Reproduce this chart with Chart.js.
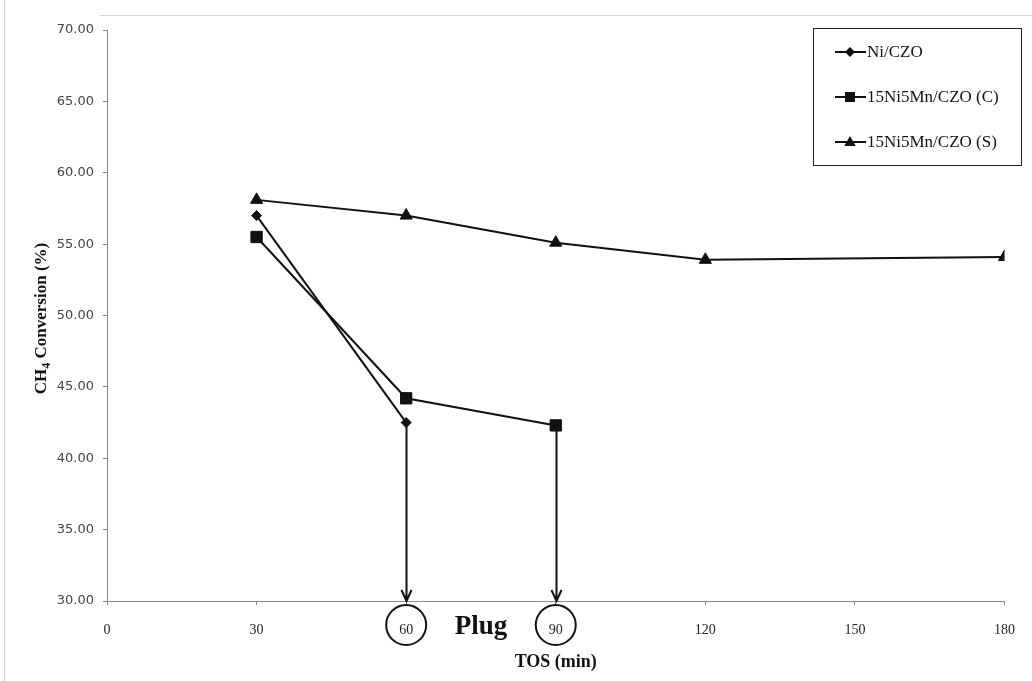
<!DOCTYPE html>
<html>
<head>
<meta charset="utf-8">
<script src="https://cdn.jsdelivr.net/npm/chart.js@4/dist/chart.umd.min.js"></script>
<style>
  html, body { margin: 0; padding: 0; background: #fff; }
  #wrap { width: 1032px; height: 681px; position: relative; }
</style>
</head>
<body>
<div id="wrap"><canvas id="c" width="1032" height="681"></canvas></div>
<script>
// Time on stream (min) and CH4 conversion (%) for each catalyst
const tosNi   = [30, 60];
const convNi  = [57.0, 42.5];
const tosC    = [30, 60, 90];
const convC   = [55.5, 44.2, 42.3];
const tosS    = [30, 60, 90, 120, 180];
const convS   = [58.1, 57.0, 55.1, 53.9, 54.1];
const seriesNames = ['Ni/CZO', '15Ni5Mn/CZO (C)', '15Ni5Mn/CZO (S)'];
const seriesMarkers = ['rectRot', 'rect', 'triangle'];
const xTickValues = [0, 30, 60, 90, 120, 150, 180];
const yTickValues = [30, 35, 40, 45, 50, 55, 60, 65, 70];
const plugTimes = [60, 90];   // runs stopped by reactor plugging
const plugLabel = 'Plug';
const xTitle = 'TOS (min)';

const INK = '#111';
const SERIF = '"Liberation Serif", "DejaVu Serif", serif';
const SANS = '"DejaVu Sans", "Liberation Sans", sans-serif';

const pts = (xs, ys) => xs.map((x, i) => ({ x: x, y: ys[i] }));

function drawMarker(ctx, style, x, y, r) {
  ctx.beginPath();
  if (style === 'rectRot') {
    ctx.moveTo(x, y - r); ctx.lineTo(x + r, y); ctx.lineTo(x, y + r); ctx.lineTo(x - r, y);
  } else if (style === 'rect') {
    ctx.rect(x - r, y - r, 2 * r, 2 * r);
  } else {
    ctx.moveTo(x, y - r); ctx.lineTo(x + r * 0.95, y + r * 0.65); ctx.lineTo(x - r * 0.95, y + r * 0.65);
  }
  ctx.closePath();
  ctx.fill();
}

// Plug arrows, circled tick labels, axis title with subscript, legend
const annotations = {
  id: 'annotations',
  afterDraw(chart) {
    const ctx = chart.ctx;
    const xs = chart.scales.x, ys = chart.scales.y;
    const axisY = ys.getPixelForValue(30);
    ctx.save();

    // faint outer frame lines
    ctx.strokeStyle = '#d4d4d4';
    ctx.lineWidth = 1;
    ctx.beginPath();
    ctx.moveTo(100, 15.5); ctx.lineTo(1032, 15.5);
    ctx.moveTo(4.5, 0); ctx.lineTo(4.5, 681);
    ctx.stroke();

    // arrows from the last point of each plugged run down to the axis
    const ends = [
      { x: tosNi[tosNi.length - 1], y: convNi[convNi.length - 1] },
      { x: tosC[tosC.length - 1], y: convC[convC.length - 1] }
    ];
    ctx.strokeStyle = INK;
    ctx.lineWidth = 2;
    ends.forEach(p => {
      const px = Math.round(xs.getPixelForValue(p.x)) + 0.5;
      const py = ys.getPixelForValue(p.y);
      ctx.beginPath();
      ctx.moveTo(px, py); ctx.lineTo(px, axisY);
      ctx.moveTo(px - 5, axisY - 11); ctx.lineTo(px, axisY); ctx.lineTo(px + 5, axisY - 11);
      ctx.stroke();
    });

    // circles round the plug tick labels
    plugTimes.forEach(t => {
      const px = xs.getPixelForValue(t);
      ctx.beginPath();
      ctx.arc(px, 625, 20, 0, Math.PI * 2);
      ctx.stroke();
    });

    // "Plug" note between the circled ticks
    ctx.fillStyle = INK;
    ctx.font = 'bold 27px ' + SERIF;
    ctx.textAlign = 'center';
    ctx.textBaseline = 'alphabetic';
    ctx.fillText(plugLabel, (xs.getPixelForValue(plugTimes[0]) + xs.getPixelForValue(plugTimes[1])) / 2, 634);

    // y-axis title: CH4 Conversion (%)
    ctx.save();
    ctx.translate(42, (ys.top + ys.bottom) / 2 + 3);
    ctx.rotate(-Math.PI / 2);
    ctx.textBaseline = 'middle';
    ctx.textAlign = 'left';
    const big = 'bold 17px ' + SERIF, small = 'bold 12px ' + SERIF;
    ctx.font = big;
    const wCH = ctx.measureText('CH').width;
    const wRest = ctx.measureText(' Conversion (%)').width;
    ctx.font = small;
    const w4 = ctx.measureText('4').width;
    let x0 = -(wCH + w4 + wRest) / 2;
    ctx.font = big; ctx.fillText('CH', x0, 0);
    ctx.font = small; ctx.fillText('4', x0 + wCH, 5);
    ctx.font = big; ctx.fillText(' Conversion (%)', x0 + wCH + w4, 0);
    ctx.restore();

    // legend
    const lx = 813, ly = 28, lw = 208, lh = 137;
    ctx.lineWidth = 1;
    ctx.strokeStyle = '#222';
    ctx.strokeRect(lx + 0.5, ly + 0.5, lw, lh);
    const rows = [52, 97, 142];
    ctx.font = '17px ' + SERIF;
    ctx.textAlign = 'left';
    ctx.textBaseline = 'middle';
    seriesNames.forEach((name, i) => {
      const y = rows[i];
      ctx.strokeStyle = INK; ctx.lineWidth = 2;
      ctx.beginPath(); ctx.moveTo(835, y); ctx.lineTo(866, y); ctx.stroke();
      ctx.fillStyle = INK;
      drawMarker(ctx, seriesMarkers[i], 850, y, i === 2 ? 6 : 5);
      ctx.fillText(name, 867, y + 1);
    });
    ctx.restore();
  }
};

const ds = (label, data, style, r) => ({
  label: label,
  data: data,
  showLine: true,
  borderColor: INK,
  backgroundColor: INK,
  borderWidth: 2,
  pointStyle: style,
  pointRadius: r,
  pointBackgroundColor: INK,
  pointBorderColor: INK,
  pointBorderWidth: 1,
  tension: 0
});

new Chart(document.getElementById('c'), {
  type: 'scatter',
  data: {
    datasets: [
      ds(seriesNames[0], pts(tosNi, convNi), seriesMarkers[0], 5),
      ds(seriesNames[1], pts(tosC, convC), seriesMarkers[1], 8),
      ds(seriesNames[2], pts(tosS, convS), seriesMarkers[2], 7)
    ]
  },
  options: {
    responsive: false,
    animation: false,
    devicePixelRatio: 1,
    layout: { padding: { top: 30, right: 24, left: 0, bottom: 0 } },
    plugins: { legend: { display: false }, tooltip: { enabled: false } },
    scales: {
      x: {
        type: 'linear',
        min: xTickValues[0],
        max: xTickValues[xTickValues.length - 1],
        afterBuildTicks: s => { s.ticks = xTickValues.map(v => ({ value: v })); },
        afterFit: s => { s.height = 80; },
        border: { color: '#8a8a8a', width: 1 },
        grid: { drawOnChartArea: false, drawTicks: true, tickLength: 4, color: '#8a8a8a' },
        ticks: { color: '#222', padding: 17, font: { family: SERIF, size: 14 } },
        title: { display: true, text: xTitle, color: INK, padding: { top: 0, bottom: 8 },
                 font: { family: SERIF, size: 18, weight: 'bold' } }
      },
      y: {
        min: yTickValues[0],
        max: yTickValues[yTickValues.length - 1],
        afterBuildTicks: s => { s.ticks = yTickValues.map(v => ({ value: v })); },
        afterFit: s => { s.width = 107; },
        border: { color: '#8a8a8a', width: 1 },
        grid: { drawOnChartArea: false, drawTicks: true, tickLength: 4, color: '#8a8a8a' },
        ticks: { color: '#444', padding: 9, font: { family: SANS, size: 13 },
                 callback: v => Number(v).toFixed(2) }
      }
    }
  },
  plugins: [annotations]
});
</script>
</body>
</html>
